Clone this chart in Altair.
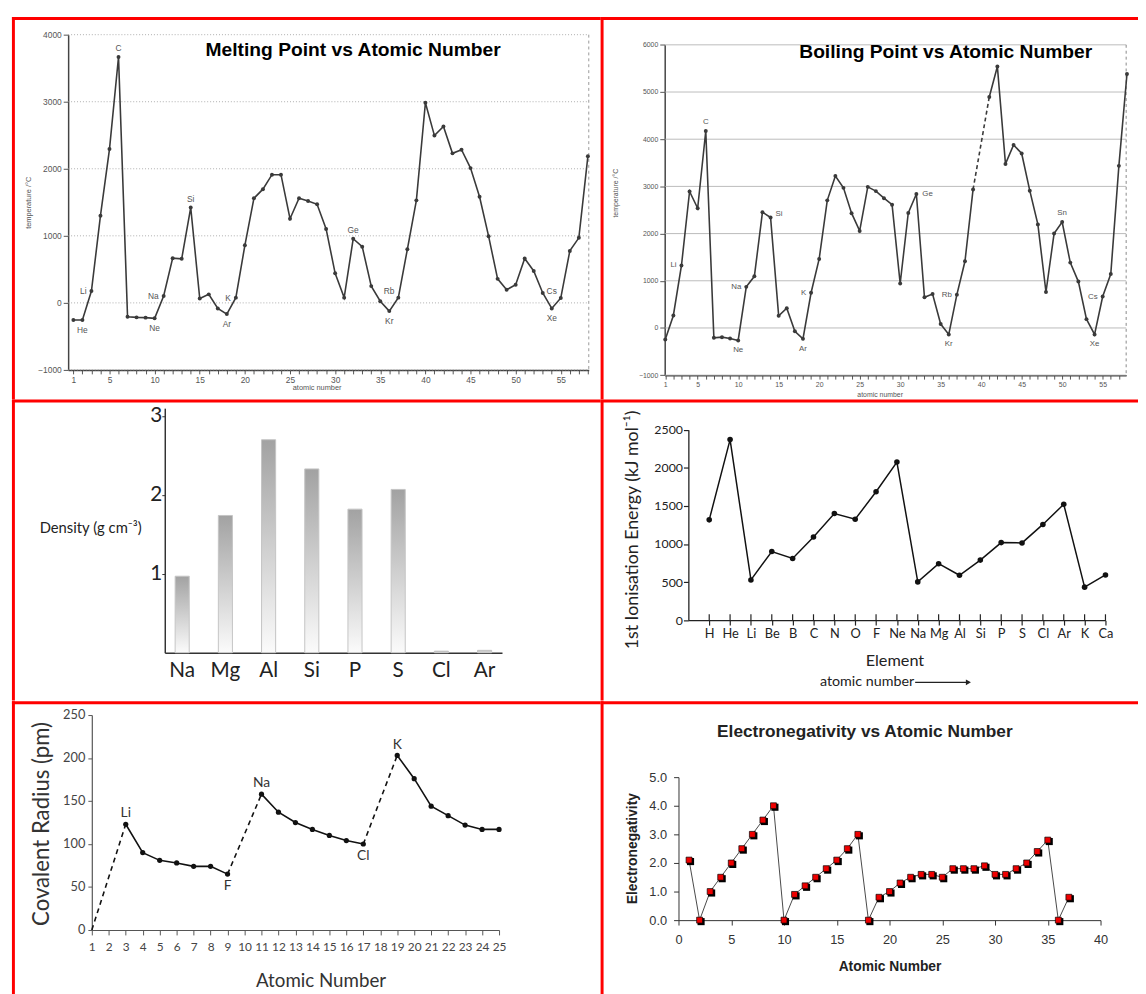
import json
import altair as alt
import pandas as pd

# ---------------- data ----------------
mp_z = list(range(1, 59))
mp_val = [-255, -255, 176, 1300, 2294, 3667, -206, -216, -220, -230,
          103, 667, 657, 1422, 64, 127, -83, -167, 78, 858,
          1559, 1696, 1912, 1912, 1255, 1560, 1520, 1471, 1103, 441,
          78, 956, 838, 250, 25, -123, 78, 799, 1529, 2985,
          2495, 2632, 2230, 2284, 2010, 1583, 995, 358, 196, 270,
          662, 476, 147, -83, 74, 775, 970, 2186]
mp_ticks = [-1000, 0, 1000, 2000, 3000, 4000]
mp_lab_sym = ["He", "Li", "C", "Ne", "Na", "Si", "Ar", "K", "Ge", "Kr", "Rb", "Xe", "Cs"]
mp_lab_z = [2, 3, 6, 10, 11, 14, 18, 19, 32, 36, 37, 54, 55]
mp_lab_pos = ["below", "left", "above", "below", "left", "above", "below", "left",
              "above", "below", "upleft", "below", "upleft"]

bp_z = list(range(1, 40)) + list(range(41, 59))
bp_val = [-244, 265, 1324, 2892, 2537, 4174, -209, -195, -223, -265,
          871, 1094, 2453, 2341, 258, 418, -70, -230, 746, 1463,
          2704, 3220, 2969, 2432, 2056, 2990, 2900, 2750, 2611, 942,
          2438, 2840, 651, 720, 83, -138, 706, 1413, 2936,
          4896, 5540, 3476, 3878, 3698, 2909, 2195, 762, 2001, 2244,
          1385, 983, 187, -138, 665, 1143, 3435, 5381]
bp_seg = ["a"] * 39 + ["b"] * 18
bp_gap_z = [39, 41]
bp_ticks = [-1000, 0, 1000, 2000, 3000, 4000, 5000, 6000]
bp_lab_sym = ["C", "Li", "Na", "Ne", "Si", "K", "Ar", "Ge", "Rb", "Kr", "Sn", "Cs", "Xe"]
bp_lab_z = [6, 3, 11, 10, 14, 19, 18, 32, 37, 36, 50, 55, 54]
bp_lab_pos = ["above", "left", "left", "below", "upright", "left", "below", "right",
              "left", "below", "above", "left", "below"]

dn_sym = ["Na", "Mg", "Al", "Si", "P", "S", "Cl", "Ar"]
dn_val = [0.97, 1.74, 2.70, 2.33, 1.82, 2.07, 0.02, 0.03]

ie_sym = ["H", "He", "Li", "Be", "B", "C", "N", "O", "F", "Ne",
          "Na", "Mg", "Al", "Si", "P", "S", "Cl", "Ar", "K", "Ca"]
ie_val = [1318, 2372, 529, 902, 811, 1093, 1401, 1327, 1687, 2077,
          503, 742, 590, 789, 1019, 1015, 1258, 1522, 434, 594]

cr_z = [1, 3, 4, 5, 6, 7, 8, 9, 11, 12, 13, 14, 15, 16, 17, 19, 20, 21, 22, 23, 24, 25]
cr_val = [0, 123, 90, 81, 78, 74, 74, 65, 158, 137, 125, 117, 110, 104, 100,
          203, 176, 144, 133, 122, 117, 117]
cr_dash_pairs = [(1, 3), (9, 11), (17, 19)]
cr_lab_sym = ["Li", "F", "Na", "Cl", "K"]
cr_lab_z = [3, 9, 11, 17, 19]
cr_lab_pos = ["above", "below", "above", "below", "above"]

en_z = list(range(1, 38))
en_val = [2.1, 0.0, 1.0, 1.5, 2.0, 2.5, 3.0, 3.5, 4.0, 0.0,
          0.9, 1.2, 1.5, 1.8, 2.1, 2.5, 3.0, 0.0, 0.8, 1.0,
          1.3, 1.5, 1.6, 1.6, 1.5, 1.8, 1.8, 1.8, 1.9, 1.6,
          1.6, 1.8, 2.0, 2.4, 2.8, 0.0, 0.8]

LS = "Liberation Sans"
LATO = "Lato"


def dummy():
    return alt.Data(values=[{"k": 1}])


def frame_layers(fw, fh):
    d = dummy()
    box = alt.Chart(d).mark_rect(fill="#ffffff", fillOpacity=0).encode(
        x=alt.value(0), x2=alt.value(fw), y=alt.value(0), y2=alt.value(fh))
    top = alt.Chart(d).mark_rect(fill="#ff0000").encode(
        x=alt.value(0), x2=alt.value(fw), y=alt.value(0), y2=alt.value(3))
    left = alt.Chart(d).mark_rect(fill="#ff0000").encode(
        x=alt.value(0), x2=alt.value(3), y=alt.value(0), y2=alt.value(fh))
    return [box, top, left]


def text_at(x, y, s, **kw):
    return alt.Chart(dummy()).mark_text(**kw).encode(
        x=alt.value(x), y=alt.value(y), text=alt.value(s))


OFF = {
    "above": dict(dy=-9),
    "below": dict(dy=10),
    "left": dict(align="right", dx=-5),
    "upleft": dict(align="right", dx=-4, dy=-7),
    "right": dict(align="left", dx=6),
    "upright": dict(align="left", dx=5, dy=-4),
}


def label_layers(syms, zs, poss, zlist, vlist, xe, ye, vname, size, color, font, off=OFF):
    lookup = dict(zip(zlist, vlist))
    df = pd.DataFrame({"z": zs, vname: [lookup[z] for z in zs], "sym": syms, "pos": poss})
    out = []
    for pos in sorted(set(poss)):
        out.append(alt.Chart(df).transform_filter(alt.datum.pos == pos).mark_text(
            fontSize=size, color=color, font=font, baseline="middle", **off[pos]
        ).encode(x=xe, y=ye, text="sym:N"))
    return out


FW_L, FW_R = 597, 545
FH1, FH2, FH3 = 387.5, 305.3, 300

# ---------------- panel 1: melting point ----------------
L1, T1, W1, H1 = 57, 18, 528, 340
mp_df = pd.DataFrame({"z": mp_z, "v": mp_val})
x1 = alt.X("z:Q", scale=alt.Scale(domain=[0.42, 58.1], range=[L1, L1 + W1], nice=False, zero=False),
           axis=alt.Axis(values=mp_z, labelExpr="datum.value == 1 || datum.value % 5 == 0 ? datum.label : ''",
                         offset=-(FH1 - T1 - H1),
                         labelFont=LS, labelFontSize=8.5, labelColor="#555", labelOverlap=False, labelFlush=False,
                         tickSize=4, tickColor="#555", labelPadding=2, domainColor="#444", domainWidth=1.5,
                         grid=False, title="atomic number", titleFont=LS, titleFontSize=7.5,
                         titleFontWeight="normal", titleColor="#555", titleX=L1 + 252, titleY=18,
                         titleBaseline="middle"))
y1 = alt.Y("v:Q", scale=alt.Scale(domain=[-1000, 4000], range=[T1 + H1, T1], nice=False, zero=False),
           axis=alt.Axis(values=mp_ticks, format="d", offset=-L1, labelFont=LS, labelFontSize=8.5,
                         labelColor="#555", tickSize=5, tickColor="#555", labelPadding=2,
                         domainColor="#444", domainWidth=1.5, grid=False, title="temperature /°C", titleFont=LS,
                         titleFontSize=7.5, titleFontWeight="normal", titleColor="#555",
                         titleX=-40, titleY=T1 + 170, titleAlign="center", titleBaseline="middle"))
mp_grid = pd.DataFrame({"v": mp_ticks})
p1_layers = frame_layers(FW_L, FH1) + [
    alt.Chart(mp_grid).mark_rule(color="#999", strokeDash=[1, 2], strokeWidth=0.8).encode(
        y=y1, x=alt.value(L1), x2=alt.value(L1 + W1)),
    alt.Chart(dummy()).mark_rule(color="#999", strokeDash=[3, 3], strokeWidth=1).encode(
        x=alt.value(L1 + W1), y=alt.value(T1), y2=alt.value(T1 + H1)),
    alt.Chart(mp_df).mark_line(color="#3a3a3a", strokeWidth=1.6).encode(x=x1, y=y1),
    alt.Chart(mp_df).mark_circle(color="#3a3a3a", size=16, opacity=1).encode(x=x1, y=y1),
] + label_layers(mp_lab_sym, mp_lab_z, mp_lab_pos, mp_z, mp_val, x1, y1, "v", 8.5, "#555", LS) + [
    text_at(L1 + 289, T1 + 16, "Melting Point vs Atomic Number", font=LS, fontSize=19.5, fontWeight="bold",
            color="#000", align="center", baseline="middle"),
]
p1 = alt.layer(*p1_layers).properties(width=FW_L, height=FH1)

# ---------------- panel 2: boiling point ----------------
L2, T2, W2, H2 = 65, 28.3, 468, 335
bp_df = pd.DataFrame({"z": bp_z, "v": bp_val, "seg": bp_seg})
bp_gap_df = bp_df[bp_df["z"].isin(bp_gap_z)]
x2 = alt.X("z:Q", scale=alt.Scale(domain=[0.93, 57.9], range=[L2, L2 + W2], nice=False, zero=False),
           axis=alt.Axis(values=list(range(1, 58)),
                         labelExpr="datum.value == 1 || datum.value % 5 == 0 ? datum.label : ''",
                         offset=-(FH1 - T2 - H2),
                         labelFont=LS, labelFontSize=7, labelColor="#555", labelOverlap=False, labelFlush=False,
                         tickSize=4, tickColor="#555", labelPadding=2, domainColor="#444", domainWidth=1.5,
                         grid=False, title="atomic number", titleFont=LS, titleFontSize=7,
                         titleFontWeight="normal", titleColor="#555", titleX=L2 + 218, titleY=20,
                         titleBaseline="middle"))
y2 = alt.Y("v:Q", scale=alt.Scale(domain=[-1000, 6000], range=[T2 + H2, T2], nice=False, zero=False),
           axis=alt.Axis(values=bp_ticks, format="d", offset=-L2, labelFont=LS, labelFontSize=7,
                         labelColor="#555", tickSize=5, tickColor="#555", labelPadding=2,
                         domainColor="#444", domainWidth=1.5, grid=False, title="temperature /°C", titleFont=LS,
                         titleFontSize=7, titleFontWeight="normal", titleColor="#555",
                         titleX=-50, titleY=T2 + 150, titleAlign="center", titleBaseline="middle"))
bp_grid = pd.DataFrame({"v": bp_ticks})
p2_layers = frame_layers(FW_R, FH1) + [
    alt.Chart(bp_grid).mark_rule(color="#aaa", strokeWidth=0.8).encode(
        y=y2, x=alt.value(L2), x2=alt.value(L2 + W2)),
    alt.Chart(dummy()).mark_rule(color="#888", strokeDash=[3, 3], strokeWidth=1).encode(
        x=alt.value(L2 + W2), y=alt.value(T2), y2=alt.value(T2 + H2)),
    alt.Chart(bp_df).mark_line(color="#3a3a3a", strokeWidth=1.6).encode(x=x2, y=y2, detail="seg:N"),
    alt.Chart(bp_gap_df).mark_line(color="#3a3a3a", strokeWidth=1.6, strokeDash=[4, 3]).encode(x=x2, y=y2),
    alt.Chart(bp_df).mark_circle(color="#3a3a3a", size=16, opacity=1).encode(x=x2, y=y2),
] + label_layers(bp_lab_sym, bp_lab_z, bp_lab_pos, bp_z, bp_val, x2, y2, "v", 8, "#555", LS) + [
    text_at(L2 + 285, T2 + 7, "Boiling Point vs Atomic Number", font=LS, fontSize=19.5, fontWeight="bold",
            color="#000", align="center", baseline="middle"),
]
p2 = alt.layer(*p2_layers).properties(width=FW_R, height=FH1)

# ---------------- panel 3: density ----------------
L3, T3, W3, H3 = 155, 8.8, 342, 248
dn_df = pd.DataFrame({"el": dn_sym, "d": dn_val})
grad = alt.LinearGradient(gradient="linear",
                          stops=[alt.GradientStop(color="#a2a2a2", offset=0),
                                 alt.GradientStop(color="#fbfbfb", offset=1)],
                          x1=0, x2=0, y1=0, y2=1)
x3 = alt.X("el:N", sort=dn_sym,
           scale=alt.Scale(range=[L3, L3 + W3], paddingInner=0.674, paddingOuter=0.24),
           axis=alt.Axis(title=None, labelAngle=0, labelFont=LATO, labelFontSize=21, labelColor="#222",
                         offset=-(FH2 - T3 - H3),
                         ticks=False, labelPadding=7, domainColor="#333", domainWidth=1.5))
y3 = alt.Y("d:Q", scale=alt.Scale(domain=[0, 3.1], range=[T3 + H3, T3], nice=False, zero=True),
           axis=alt.Axis(values=[1, 2, 3], offset=-L3, labelFont=LATO, labelFontSize=21, labelColor="#222",
                         tickSize=3, tickColor="#333", labelPadding=0, domainColor="#333", domainWidth=1.5,
                         grid=False, title="Density (g cm⁻³)", titleFont=LATO, titleFontSize=15,
                         titleFontWeight="normal", titleColor="#222", titleAngle=0, titleAlign="right",
                         titleBaseline="middle", titleX=-24, titleY=T3 + 121))
p3_layers = frame_layers(FW_L, FH2) + [
    alt.Chart(dn_df).mark_bar(color=grad, stroke="#c4c4c4", strokeWidth=1).encode(x=x3, y=y3),
]
p3 = alt.layer(*p3_layers).properties(width=FW_L, height=FH2)

# ---------------- panel 4: ionisation energy ----------------
L4, T4, W4, H4 = 89, 30.8, 423, 193
ie_df = pd.DataFrame({"z": list(range(1, 21)), "sym": ie_sym, "e": ie_val})
x4 = alt.X("z:Q", scale=alt.Scale(domain=[0, 20], range=[L4, L4 + W4], nice=False, zero=False),
           axis=alt.Axis(values=list(range(1, 21)), labelExpr=f"{json.dumps(ie_sym)}[datum.value - 1]",
                         offset=-(FH2 - T4 - H4),
                         labelFont=LATO, labelFontSize=13, labelColor="#222", tickSize=5, tickColor="#222",
                         tickWidth=1.2, labelPadding=3, domainColor="#222", domainWidth=1.3, grid=False,
                         labelOverlap=False, labelFlush=False, title="Element", titleFont=LATO,
                         titleFontSize=16.5, titleFontWeight="normal", titleColor="#222",
                         titleX=L4 + 209, titleY=41, titleBaseline="middle"))
y4 = alt.Y("e:Q", scale=alt.Scale(domain=[0, 2500], range=[T4 + H4, T4], nice=False, zero=True),
           axis=alt.Axis(values=[0, 500, 1000, 1500, 2000, 2500], format="d", offset=-L4,
                         labelFont=LATO, labelFontSize=12.5,
                         labelColor="#222", tickSize=5, tickColor="#222", tickWidth=1.2, labelPadding=1,
                         domainColor="#222", domainWidth=1.3, grid=False,
                         title="1st Ionisation Energy (kJ mol⁻¹)", titleFont=LATO, titleFontSize=18,
                         titleFontWeight="normal", titleColor="#222", titleX=-57, titleY=T4 + 101,
                         titleAlign="center", titleBaseline="middle"))
AY = T4 + H4 + 63
p4_layers = frame_layers(FW_R, FH2) + [
    alt.Chart(ie_df).mark_rule(color="#222", strokeWidth=1.2).encode(
        x=x4, y=alt.value(T4 + H4 - 6), y2=alt.value(T4 + H4)),
    alt.Chart(ie_df).mark_line(color="#111", strokeWidth=1.5).encode(x=x4, y=y4),
    alt.Chart(ie_df).mark_circle(color="#111", size=32, opacity=1).encode(x=x4, y=y4),
    text_at(L4 + 229, AY, "atomic number", font=LATO, fontSize=14.5, color="#222",
            align="right", baseline="middle"),
    alt.Chart(dummy()).mark_rule(color="#222", strokeWidth=1.2).encode(
        x=alt.value(L4 + 230), x2=alt.value(L4 + 283), y=alt.value(AY)),
    alt.Chart(dummy()).mark_point(shape="triangle-right", filled=True, size=35, color="#222",
                                  opacity=1).encode(x=alt.value(L4 + 284), y=alt.value(AY)),
]
p4 = alt.layer(*p4_layers).properties(width=FW_R, height=FH2)

# ---------------- panel 5: covalent radius ----------------
L5, T5, W5, H5 = 81, 14, 413, 218
cr_group = []
for z in cr_z:
    cr_group.append("p2" if 3 <= z <= 9 else "p3" if 11 <= z <= 17 else "p4" if z >= 19 else "none")
cr_df = pd.DataFrame({"z": cr_z, "r": cr_val, "g": cr_group})
cr_lookup = dict(zip(cr_z, cr_val))
dash_rows = []
for i, (a, b) in enumerate(cr_dash_pairs):
    dash_rows.append({"z": a, "r": cr_lookup[a], "g": f"d{i}"})
    dash_rows.append({"z": b, "r": cr_lookup[b], "g": f"d{i}"})
cr_dash_df = pd.DataFrame(dash_rows)
x5 = alt.X("z:Q", scale=alt.Scale(domain=[1, 25], range=[L5, L5 + W5], nice=False, zero=False),
           axis=alt.Axis(values=list(range(1, 26)), offset=-(FH3 - T5 - H5),
                         labelFont=LATO, labelFontSize=12, labelColor="#444",
                         tickSize=5, tickColor="#555", labelPadding=7, domainColor="#555", domainWidth=1.2,
                         grid=False, labelOverlap=False, labelFlush=False, title="Atomic Number",
                         titleFont=LATO, titleFontSize=19, titleFontWeight="normal", titleColor="#333",
                         titleX=L5 + 232, titleY=51, titleBaseline="middle"))
y5 = alt.Y("r:Q", scale=alt.Scale(domain=[0, 250], range=[T5 + H5, T5], nice=False, zero=True),
           axis=alt.Axis(values=[0, 50, 100, 150, 200, 250], offset=-L5, labelFont=LATO, labelFontSize=13,
                         labelColor="#444", tickSize=4, tickColor="#555", labelPadding=3,
                         domainColor="#555", domainWidth=1.2, grid=False, title="Covalent Radius (pm)",
                         titleFont=LATO, titleFontSize=22.5, titleFontWeight="normal", titleColor="#333",
                         titleX=-51, titleY=T5 + 110, titleAlign="center", titleBaseline="middle"))
cr_solid = cr_df[cr_df["g"] != "none"]
p5_layers = frame_layers(FW_L, FH3) + [
    alt.Chart(cr_solid).mark_line(color="#111", strokeWidth=1.6).encode(x=x5, y=y5, detail="g:N"),
    alt.Chart(cr_dash_df).mark_line(color="#111", strokeWidth=1.6, strokeDash=[5, 4]).encode(
        x=x5, y=y5, detail="g:N"),
    alt.Chart(cr_solid).mark_circle(color="#111", size=28, opacity=1).encode(x=x5, y=y5),
] + label_layers(cr_lab_sym, cr_lab_z, cr_lab_pos, cr_z, cr_val, x5, y5, "r", 14, "#333", LATO,
                 off={"above": dict(dy=-11), "below": dict(dy=12)})
p5 = alt.layer(*p5_layers).properties(width=FW_L, height=FH3)

# ---------------- panel 6: electronegativity ----------------
L6, T6, W6, H6 = 79, 77, 428, 145
en_df = pd.DataFrame({"z": en_z, "x": en_val})
x6 = alt.X("z:Q", scale=alt.Scale(domain=[0, 40], range=[L6, L6 + W6], nice=False, zero=False),
           axis=alt.Axis(values=[0, 5, 10, 15, 20, 25, 30, 35, 40], offset=-(FH3 - T6 - H6),
                         labelFont=LS, labelFontSize=13,
                         labelColor="#333", tickSize=5, tickColor="#333", labelPadding=9,
                         domainColor="#333", domainWidth=1, grid=False, labelFlush=False,
                         title="Atomic Number", titleFont=LS, titleFontSize=14, titleFontWeight="bold",
                         titleColor="#222", titleX=L6 + 214, titleY=47, titleBaseline="middle"))
y6 = alt.Y("x:Q", scale=alt.Scale(domain=[0, 5], range=[T6 + H6, T6], nice=False, zero=True),
           axis=alt.Axis(values=[0, 1, 2, 3, 4, 5], format=".1f", offset=-L6, labelFont=LS, labelFontSize=13,
                         labelColor="#333", tickSize=5, tickColor="#333", labelPadding=7,
                         domainColor="#333", domainWidth=1, grid=False, title="Electronegativity",
                         titleFont=LS, titleFontSize=14, titleFontWeight="bold", titleColor="#222",
                         titleX=-47, titleY=T6 + 72, titleAlign="center", titleBaseline="middle"))
p6_layers = frame_layers(FW_R, FH3) + [
    alt.Chart(en_df).mark_line(color="#333", strokeWidth=0.9).encode(x=x6, y=y6),
    alt.Chart(en_df).mark_square(color="#000", size=52, opacity=1, xOffset=1.5, yOffset=1.5).encode(
        x=x6, y=y6),
    alt.Chart(en_df).mark_square(color="#ee0000", size=36, opacity=1, stroke="#000",
                                 strokeWidth=0.7).encode(x=x6, y=y6),
    text_at(L6 + 189, T6 - 46, "Electronegativity vs Atomic Number", font=LS, fontSize=17.5,
            fontWeight="bold", color="#222", align="center", baseline="middle"),
]
p6 = alt.layer(*p6_layers).properties(width=FW_R, height=FH3)

# ---------------- assemble ----------------
row1 = alt.hconcat(p1, p2, spacing=0)
row2 = alt.hconcat(p3, p4, spacing=0)
row3 = alt.hconcat(p5, p6, spacing=0)
chart = alt.vconcat(row1, row2, row3, spacing=0).properties(
    padding={"left": 4, "top": 2, "right": 0, "bottom": 0}, background="white"
).configure(font=LS).configure_view(stroke=None)

chart.save("out.html", embed_options={"renderer": "svg", "actions": False})
